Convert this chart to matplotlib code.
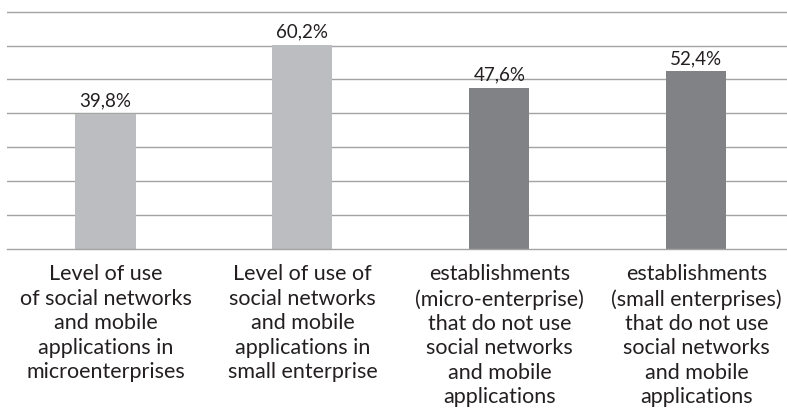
import matplotlib
matplotlib.use("Agg")
import matplotlib.pyplot as plt
from matplotlib import font_manager

names = {f.name for f in font_manager.fontManager.ttflist}
fam = [n for n in ["Lato", "DejaVu Sans"] if n in names]
plt.rcParams['font.family'] = fam

categories = [
    "Level of use\nof social networks\nand mobile\napplications in\nmicroenterprises",
    "Level of use of\nsocial networks\nand mobile\napplications in\nsmall enterprise",
    "establishments\n(micro-enterprise)\nthat do not use\nsocial networks\nand mobile\napplications",
    "establishments\n(small enterprises)\nthat do not use\nsocial networks\nand mobile\napplications",
]
values = [39.8, 60.2, 47.6, 52.4]
value_labels = ["39,8%", "60,2%", "47,6%", "52,4%"]
colors = ["#BCBDC0", "#BCBDC0", "#808285", "#808285"]
gridlines = [10, 20, 30, 40, 50, 60, 70]

fig = plt.figure(figsize=(7.87, 4.15), dpi=100)
ax = fig.add_axes([7/787, 0.4, 1 - 7/787, 0.98 - 0.4])
ax.set_xlim(-0.5, 3.46)
ax.set_ylim(0, 71)

for g in gridlines:
    ax.axhline(g, color="#A3A3A3", lw=1.0, zorder=1)
ax.axhline(0, color="#A3A3A3", lw=1.0, zorder=3, clip_on=False)

x = range(len(values))
ax.bar(x, values, width=0.305, color=colors, zorder=2)
for xi, v, lab in zip(x, values, value_labels):
    ax.text(xi, v + 1.3, lab, ha="center", va="bottom", fontsize=13.5, color="#231F20")

ax.set_xticks(list(x))
ax.set_xticklabels(categories, fontsize=15.5, color="#231F20", linespacing=1.28, va="top")
ax.tick_params(axis="x", length=0, pad=11)
ax.set_yticks([])
for s in ax.spines.values():
    s.set_visible(False)

fig.savefig("out.png", dpi=100)
